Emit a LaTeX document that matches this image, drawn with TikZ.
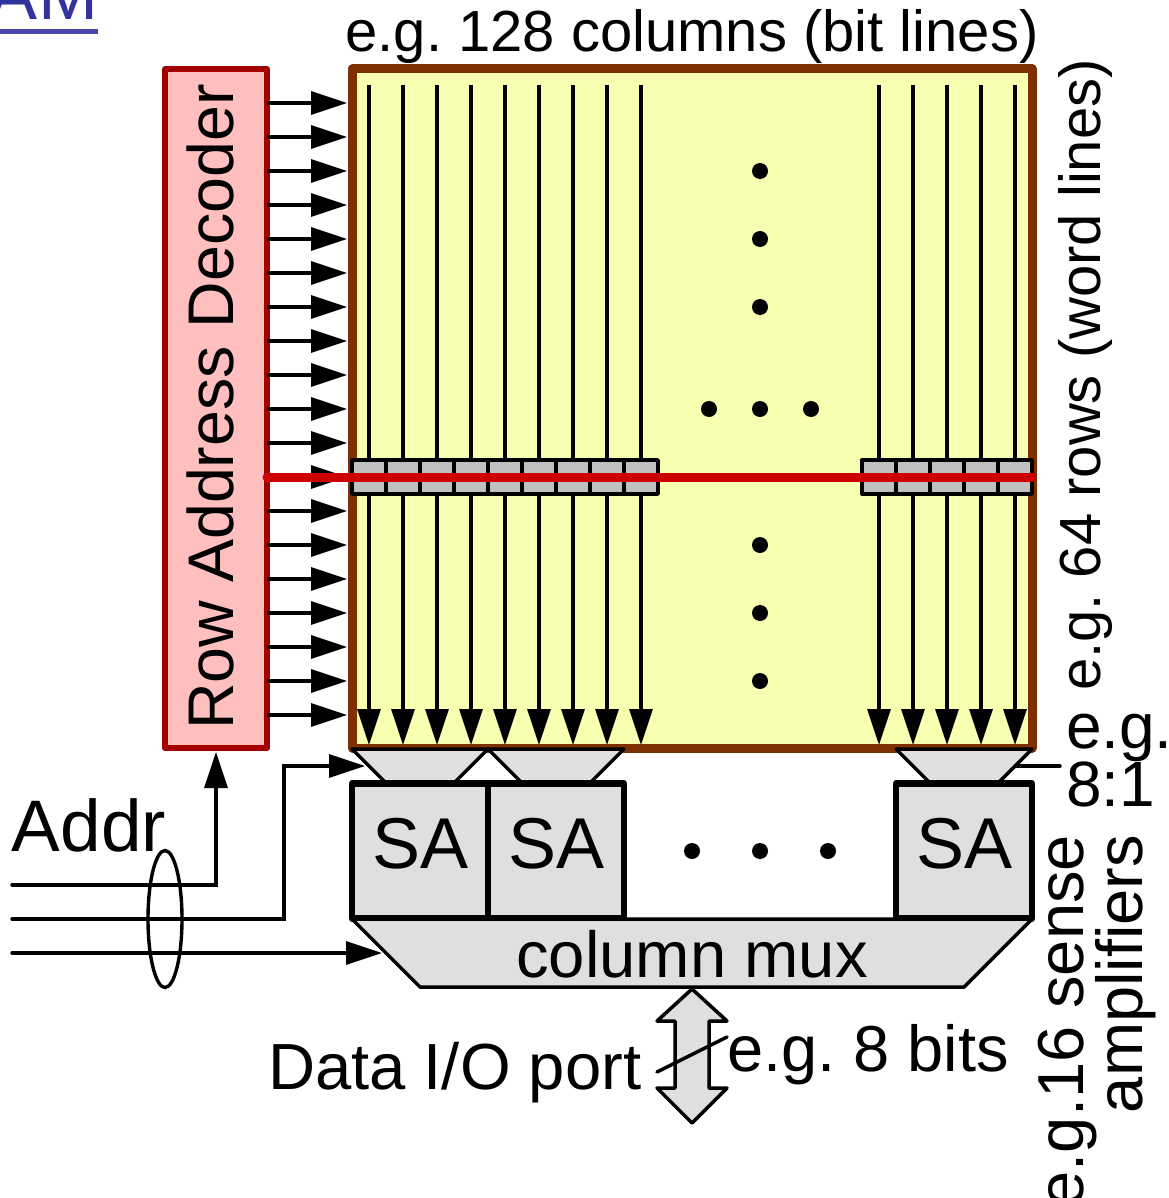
\documentclass[tikz,border=0pt]{standalone}
\usepackage{fontspec}
\setmainfont{Liberation Sans}
\usetikzlibrary{arrows.meta}
\definecolor{decfill}{HTML}{FFBFBF}
\definecolor{decline}{HTML}{A40000}
\definecolor{arrfill}{HTML}{F9FFB0}
\definecolor{arrline}{HTML}{7F3000}
\definecolor{blockgrey}{HTML}{DFDFDF}
\definecolor{cellgrey}{HTML}{C0C0C0}
\definecolor{hotred}{HTML}{CC0000}
\definecolor{linkblue}{HTML}{3333A0}
\newcommand{\fs}[1]{\frenchspacing\fontsize{#1}{#1}\selectfont}
\tikzset{
  box/.style={draw,inner sep=0pt,outer sep=0pt,line join=round},
  txt/.style={inner sep=0pt,outer sep=0pt,text=black},
  wire/.style={draw=black,line width=3.4pt,line join=miter},
  arw/.style={wire,-{Triangle[length=36pt,width=23pt]}},
  cellbox/.style={box,fill=cellgrey,line width=3.4pt,minimum width=34pt,minimum height=34pt},
  sabox/.style={box,fill=blockgrey,line width=6.5pt,minimum width=136pt,minimum height=135pt},
  muxshape/.style={draw=black,fill=blockgrey,line width=3.5pt,line join=round},
  dotmark/.style={circle,fill=black,inner sep=0pt,minimum size=16pt,outer sep=0pt},
}
\begin{document}
\begin{tikzpicture}[x=1pt,y=-1pt]
\useasboundingbox (0,0) rectangle (1168,1198);
\clip (0,0) rectangle (1168,1198);
% link remnant
\node[txt,anchor=base east,text=linkblue] (link) at (98,20) {\fs{72}AM};
\fill[linkblue!90!white] (0,29) rectangle (98,34);
% decoder and array
\node[box,fill=decfill,draw=decline,line width=6pt,minimum width=102pt,minimum height=679pt] (dec) at (216,408.5) {};
\node[box,fill=arrfill,draw=arrline,line width=9pt,minimum width=680pt,minimum height=679pt] (arr) at (692,408.5) {};
\node[txt,anchor=base,rotate=90] (declabel) at (233,407) {\fs{64.5}Row Address Decoder};
\node[txt,anchor=base] (collabel) at (692,52) {\fs{58}e.g. 128 columns (bit lines)};
\node[txt,anchor=base,rotate=90] (rowlabel) at (1100,375) {\fs{58}e.g. 64 rows (word lines)};
% bit lines
\foreach \x in {369,403,437,471,505,539,573,607,641,879,913,947,981,1015}
  \draw[arw] (\x,85) -- (\x,745);
% word lines
\foreach \k in {0,...,18}
  \draw[arw,shorten >=5pt] (dec.east |- 0,103+34*\k) -- (arr.west |- 0,103+34*\k);
% cells
\foreach \k in {0,...,8}
  \node[cellbox] (cella\k) at (369+34*\k,477) {};
\foreach \k in {0,...,4}
  \node[cellbox] (cellb\k) at (879+34*\k,477) {};
\draw[hotred,line width=9pt,line cap=round] (267,477) -- (1032,477);
% ellipsis dots
\foreach \xx/\yy/\n in {760/171/a,760/239/b,760/307/c,709/409/d,760/409/e,811/409/f,760/545/g,760/613/h,760/681/i,692/851/j,760/851/k,828/851/l}
  \node[dotmark] (dot\n) at (\xx,\yy) {};
% top muxes
\draw[muxshape] (352,749) -- (488,749) -- (454,783) -- (386,783) -- cycle;
\draw[muxshape] (488,749) -- (624,749) -- (590,783) -- (522,783) -- cycle;
\draw[muxshape] (896,749) -- (1032,749) -- (998,783) -- (930,783) -- cycle;
% sense amps
\node[sabox] (sa1) at (420,851) {};
\node[sabox] (sa2) at (556,851) {};
\node[sabox] (sa3) at (964,851) {};
\node[txt,anchor=base] (sa1t) at (420.5,868) {\fs{72}SA};
\node[txt,anchor=base] (sa2t) at (556.5,868) {\fs{72}SA};
\node[txt,anchor=base] (sa3t) at (964.5,868) {\fs{72}SA};
% column mux
\draw[muxshape] (352,919) -- (1032,919) -- (964,987) -- (420,987) -- cycle;
\node[txt,anchor=base] (muxlabel) at (692,977) {\fs{65.2}column mux};
% 8:1 leader
\coordinate (leadA) at (1015,766);
\coordinate (leadB) at (1060,766);
\draw[wire,line cap=round] (leadA) -- (leadB);
\node[txt,anchor=base west] (eg1) at (1066,748) {\fs{64}e.g.};
\node[txt,anchor=base west] (eg2) at (1066,806) {\fs{64}8:1};
% address wires
\coordinate (a1) at (12,885);
\coordinate (a2) at (12,919);
\coordinate (a3) at (12,953);
\coordinate (m1in) at (365,766);
\coordinate (m0in) at (382,953);
\draw[arw,line cap=round,shorten >=4pt] (a1) -| (dec.south);
\draw[arw,line cap=round] (a2) -- (284,919) -- (284,766) -- (m1in);
\draw[arw,line cap=round] (a3) -- (m0in);
\draw[black,line width=3.4pt] (165,919) ellipse [x radius=17,y radius=68.5];
\node[txt,anchor=base west] (addr) at (12,851) {\fs{73}Addr};
% data port
\draw[muxshape] (692,989) -- (727,1021) -- (709,1021) -- (709,1088) -- (727,1088) -- (692,1123) -- (657,1088) -- (675,1088) -- (675,1021) -- (657,1021) -- cycle;
\coordinate (slA) at (657,1072);
\coordinate (slB) at (727,1037);
\draw[wire,line cap=round] (slA) -- (slB);
\node[txt,anchor=base west] (dataport) at (268,1089) {\fs{65.2}Data I/O port};
\node[txt,anchor=base west] (bits) at (727,1071) {\fs{65}e.g. 8 bits};
% sense amp labels
\node[txt,anchor=base east,rotate=90] (sense) at (1083,835) {\fs{65}e.g.16 sense};
\node[txt,anchor=base east,rotate=90] (ampl) at (1142,835) {\fs{65}amplifiers};
\end{tikzpicture}
\end{document}
